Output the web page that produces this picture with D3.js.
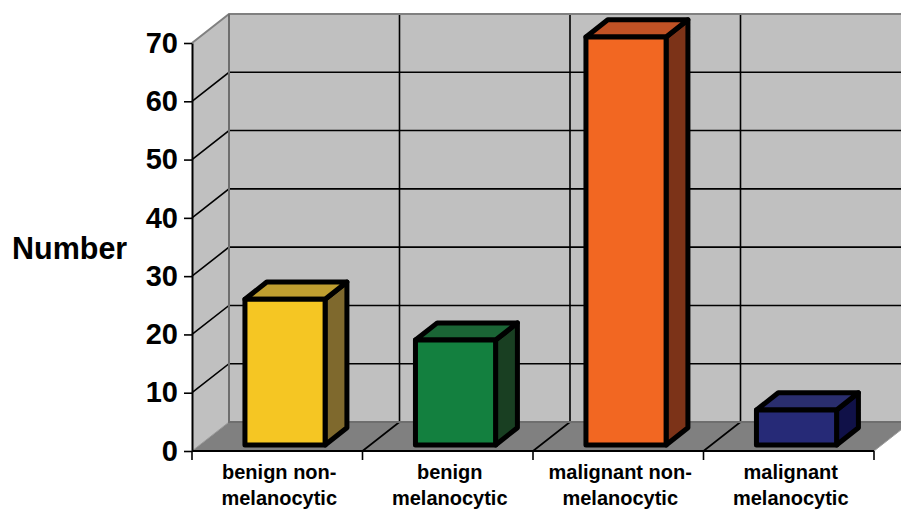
<!DOCTYPE html>
<html lang="en">

<head>
  <meta charset="UTF-8" />
  <title>Number of lesions</title>
  <script src="https://d3js.org/d3.v7.min.js"></script>
  <style>
    body {
      margin: 0;
      background-color: #ffffff;
      font-family: "Liberation Sans", Arial, sans-serif;
    }

    svg {
      display: block;
    }

    .tick text {
      font-weight: bold;
    }
  </style>
</head>

<body>
  <div id="chart"></div>
  <script>
    // data
    const categories = [
      ["benign non-", "melanocytic"],
      ["benign", "melanocytic"],
      ["malignant non-", "melanocytic"],
      ["malignant", "melanocytic"],
    ];
    const values = [25, 18, 70, 6];
    const yTicks = [0, 10, 20, 30, 40, 50, 60, 70];
    const faceColors = ["#f5c623", "#13803f", "#f26722", "#262a77"];
    const topColors = ["#bf9e30", "#1a6535", "#c05225", "#2a2e6e"];
    const sideColors = ["#7f692d", "#193f22", "#7c3318", "#101148"];

    const W = 901, H = 511;
    const plotLeft = 192, plotRight = 874, plotBottom = 451, plotTop = 43;
    const depth = { x: 37, y: -29 };   // wall depth
    const f0 = 0.21, f1 = 0.80;         // bar position inside the depth

    const keys = categories.map((d, i) => i);

    const x = d3.scaleBand()
      .domain(keys)
      .range([plotLeft, plotRight])
      .paddingInner(0.53)
      .paddingOuter(0.265);

    const y = d3.scaleLinear().domain([0, 70]).range([plotBottom, plotTop]);

    const svg = d3.select("#chart")
      .append("svg")
      .attr("width", W)
      .attr("height", H);

    const line = d3.line();
    const back = (p) => [p[0] + depth.x, p[1] + depth.y];

    // walls
    const yMax = y(70), y0 = y(0);
    const wallEnd = plotRight + 60;
    svg.append("path")
      .attr("d", line([back([plotLeft, yMax]), back([wallEnd, yMax]), back([wallEnd, y0]), back([plotLeft, y0])]) + "Z")
      .attr("fill", "#c0c0c0");
    svg.append("path")
      .attr("d", line([[plotLeft, yMax], back([plotLeft, yMax]), back([plotLeft, y0]), [plotLeft, y0]]) + "Z")
      .attr("fill", "#c0c0c0");

    // horizontal grid
    yTicks.filter((d) => d > 0 && d < 70).forEach((t) => {
      svg.append("path")
        .attr("d", line([[plotLeft, y(t)], back([plotLeft, y(t)]), back([wallEnd, y(t)])]))
        .attr("fill", "none")
        .attr("stroke", "#000")
        .attr("stroke-width", 1.6);
    });

    // category boundaries
    const step = x.step();
    const bounds = d3.range(categories.length + 1).map((i) => plotLeft + i * step);

    // floor
    svg.append("path")
      .attr("d", line([[plotLeft, y0], [plotRight, y0], back([plotRight, y0]), back([plotLeft, y0])]) + "Z")
      .attr("fill", "#808080")
      .attr("stroke", "#9a9a9a")
      .attr("stroke-width", 1);

    bounds.slice(1, -1).forEach((bx) => {
      svg.append("path")
        .attr("d", line([[bx, y0], back([bx, y0]), back([bx, yMax])]))
        .attr("fill", "none")
        .attr("stroke", "#000")
        .attr("stroke-width", 1.6);
    });

    // wall edges
    svg.append("path")
      .attr("d", line([[plotLeft, yMax], back([plotLeft, yMax]), back([wallEnd, yMax])]))
      .attr("fill", "none")
      .attr("stroke", "#808080")
      .attr("stroke-width", 2);
    svg.append("path")
      .attr("d", line([back([plotLeft, yMax]), back([plotLeft, y0]), back([wallEnd, y0])]))
      .attr("fill", "none")
      .attr("stroke", "#6e6e6e")
      .attr("stroke-width", 2);

    // bars
    const g = svg.append("g")
      .attr("stroke", "#000")
      .attr("stroke-width", 5)
      .attr("stroke-linejoin", "round");

    values.forEach((v, i) => {
      const x0 = x(i) + f0 * depth.x;
      const x1 = x0 + x.bandwidth();
      const yb = y(0) + f0 * depth.y;
      const yt = y(v) + f0 * depth.y;
      const dx = (f1 - f0) * depth.x, dy = (f1 - f0) * depth.y;

      g.append("path")
        .attr("d", line([[x1, yt], [x1 + dx, yt + dy], [x1 + dx, yb + dy], [x1, yb]]) + "Z")
        .attr("fill", sideColors[i]);
      g.append("path")
        .attr("d", line([[x0, yt], [x0 + dx, yt + dy], [x1 + dx, yt + dy], [x1, yt]]) + "Z")
        .attr("fill", topColors[i]);
      g.append("rect")
        .attr("x", x0)
        .attr("y", yt)
        .attr("width", x1 - x0)
        .attr("height", yb - yt)
        .attr("fill", faceColors[i]);
    });

    // y axis
    const yAxis = svg.append("g")
      .attr("transform", `translate(${plotLeft},0)`)
      .call(d3.axisLeft(y).tickValues(yTicks).tickSize(8).tickPadding(6).tickSizeOuter(0));
    yAxis.select(".domain").attr("stroke", "#000").attr("stroke-width", 2);
    yAxis.selectAll(".tick line").attr("stroke-width", 1.6);
    yAxis.selectAll(".tick text")
      .attr("font-size", 29)
      .attr("font-family", "Liberation Sans, Arial, sans-serif")
      .attr("fill", "#000");

    // x axis
    svg.append("line")
      .attr("x1", plotLeft).attr("x2", plotRight)
      .attr("y1", y0).attr("y2", y0)
      .attr("stroke", "#000")
      .attr("stroke-width", 2);
    bounds.forEach((bx) => {
      svg.append("line")
        .attr("x1", bx).attr("x2", bx)
        .attr("y1", y0).attr("y2", y0 + 9)
        .attr("stroke", "#000")
        .attr("stroke-width", 1.6);
    });

    const labels = svg.append("g")
      .attr("font-size", 20)
      .attr("font-weight", "bold")
      .attr("text-anchor", "middle");
    categories.forEach((c, i) => {
      const t = labels.append("text")
        .attr("x", x(i) + x.bandwidth() / 2 + 2)
        .attr("y", 479);
      c.forEach((s, j) => {
        t.append("tspan")
          .attr("x", x(i) + x.bandwidth() / 2 + 2)
          .attr("dy", j === 0 ? 0 : 26)
          .text(s);
      });
    });

    // axis title
    svg.append("text")
      .attr("x", 12)
      .attr("y", 259)
      .attr("font-size", 30.5)
      .attr("font-weight", "bold")
      .text("Number");
  </script>
</body>

</html>
